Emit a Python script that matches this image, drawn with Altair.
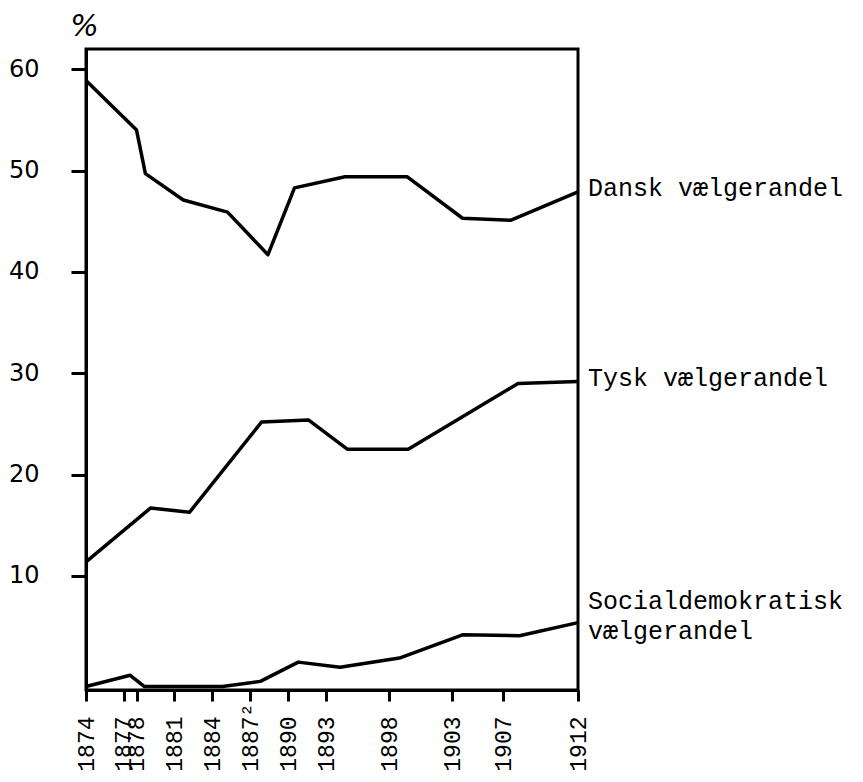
import altair as alt
import pandas as pd

# Values (year, percent)
dansk_years = [1874, 1878.0, 1878.7, 1881.7, 1885.2, 1888.4, 1890.5, 1894.5, 1899.4, 1903.8, 1907.5, 1912]
dansk_vals = [58.9, 54.0, 49.7, 47.1, 45.9, 41.7, 48.3, 49.4, 49.4, 45.3, 45.1, 47.9]

tysk_years = [1874, 1879.1, 1882.2, 1887.9, 1891.6, 1894.7, 1899.5, 1908.0, 1912]
tysk_vals = [11.4, 16.7, 16.3, 25.2, 25.4, 22.5, 22.5, 29.0, 29.2]

soc_years = [1874, 1877.5, 1878.6, 1884.8, 1887.8, 1890.8, 1894.1, 1898.8, 1903.8, 1908.1, 1912]
soc_vals = [-0.9, 0.2, -0.9, -0.9, -0.4, 1.5, 1.0, 1.9, 4.2, 4.1, 5.4]

tick_years = [1874, 1877, 1878, 1881, 1884, 1887, 1890, 1893, 1898, 1903, 1907, 1912]
y_ticks = [10, 20, 30, 40, 50, 60]
footnote_year = 1887
footnote_mark = "²"

series_names = ["Dansk vælgerandel", "Tysk vælgerandel", "Socialdemokratisk vælgerandel"]

rows = []
for name, ys, vs in zip(series_names, [dansk_years, tysk_years, soc_years], [dansk_vals, tysk_vals, soc_vals]):
    for i, (yr, v) in enumerate(zip(ys, vs)):
        rows.append({"series": name, "order": i, "year": yr, "pct": v})
df = pd.DataFrame(rows)

mono = "Liberation Mono"
Y_MIN = -1.25
X_TICK = 11
X_PAD = 15

x_scale = alt.Scale(domain=[1874, 1907, 1912], range=[0, 417, 492], nice=False, zero=False)
y_scale = alt.Scale(domain=[Y_MIN, 62], nice=False, zero=False)

x_axis = alt.Axis(
    values=tick_years,
    format="d",
    labelAngle=270,
    labelFont=mono,
    labelFontSize=23,
    labelColor="black",
    labelPadding=X_PAD,
    tickSize=X_TICK,
    tickWidth=3,
    tickColor="black",
    domainColor="black",
    domainWidth=3,
    grid=False,
    title=None,
    labelOverlap=False,
)
y_axis = alt.Axis(
    values=y_ticks,
    format="d",
    labelFont="DejaVu Sans",
    labelFontSize=24,
    labelColor="black",
    labelPadding=32,
    tickSize=15,
    tickWidth=3,
    tickColor="black",
    domainColor="black",
    domainWidth=3,
    grid=False,
    title="%",
    titleAngle=0,
    titleFont="DejaVu Sans",
    titleFontSize=30,
    titleFontStyle="italic",
    titleFontWeight="normal",
    titleAlign="center",
    titleBaseline="bottom",
    titleX=-2,
    titleY=-8,
)

lines = alt.Chart(df).mark_line(color="black", strokeWidth=3.5, strokeJoin="round").encode(
    x=alt.X("year:Q", scale=x_scale, axis=x_axis),
    y=alt.Y("pct:Q", scale=y_scale, axis=y_axis),
    detail="series:N",
    order="order:Q",
)

def label(text, yr, val, dy, baseline="middle"):
    return alt.Chart().mark_text(
        text=text, align="left", baseline=baseline, dx=10, dy=dy,
        font=mono, fontSize=25, color="black", lineBreak="\n", lineHeight=30,
    ).encode(x=alt.datum(yr, scale=x_scale), y=alt.datum(val, scale=y_scale))

lab_d = label(series_names[0], dansk_years[-1], dansk_vals[-1], -4)
lab_t = label(series_names[1], tysk_years[-1], tysk_vals[-1], -3)
lab_s = label("Socialdemokratisk\nvælgerandel", soc_years[-1], soc_vals[-1], -34, baseline="top")

# footnote superscript just above the 1887 tick label (rotated frame: -dx is downwards)
foot = alt.Chart().mark_text(
    text=footnote_mark, angle=270, align="left", baseline="middle", dx=-(X_TICK + X_PAD + 1),
    font=mono, fontSize=23, color="black",
).encode(x=alt.datum(footnote_year, scale=x_scale), y=alt.datum(Y_MIN, scale=y_scale))

chart = alt.layer(lines, lab_d, lab_t, lab_s, foot).properties(
    width=492,
    height=641,
    autosize=alt.AutoSizeParams(type="none"),
    padding={"left": 78, "top": 41, "right": 277, "bottom": 86},
    background="white",
).configure_view(stroke="black", strokeWidth=3)

chart.save("out.html", embed_options={"renderer": "svg", "actions": False})
